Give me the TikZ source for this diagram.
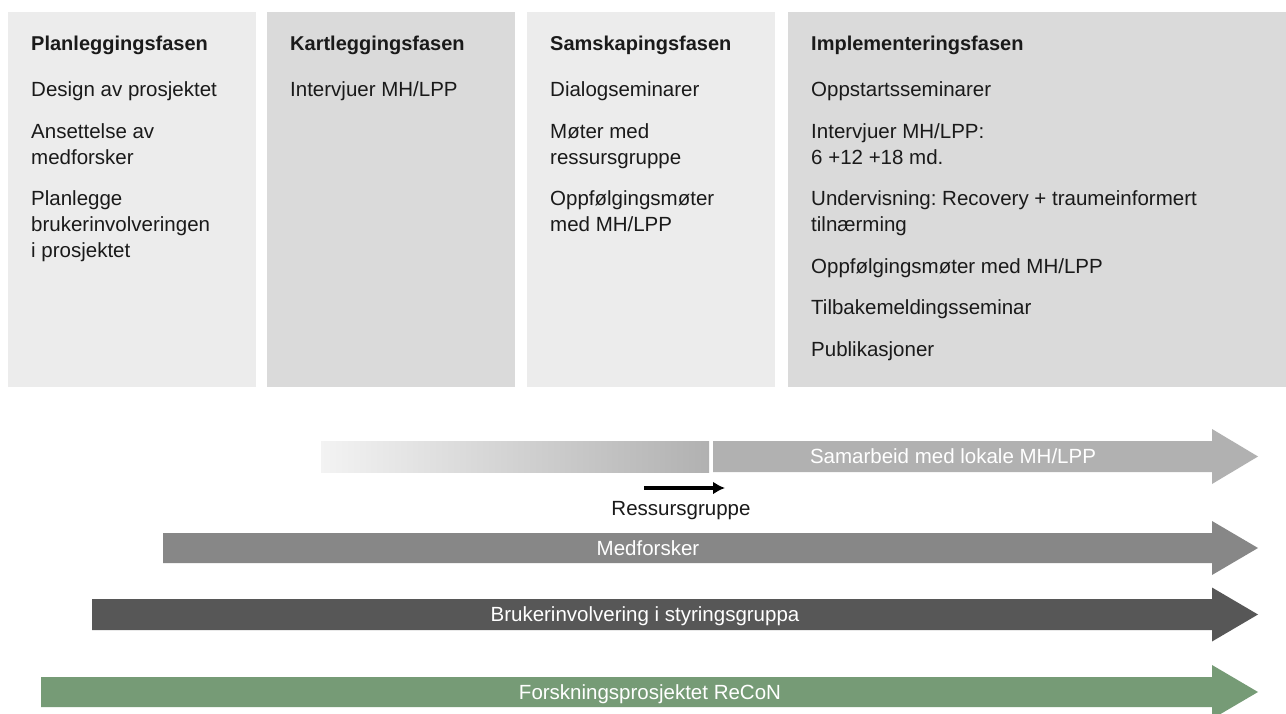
\documentclass[tikz,border=0pt]{standalone}
\usepackage{fontspec}
\setmainfont{Liberation Sans}
\usetikzlibrary{arrows.meta}
\frenchspacing
\definecolor{boxlight}{HTML}{ECECEC}
\definecolor{boxdark}{HTML}{DADADA}
\definecolor{ink}{HTML}{1A1A1A}
\definecolor{barA}{HTML}{B1B1B1}
\definecolor{barAstart}{HTML}{F3F3F3}
\definecolor{barB}{HTML}{878787}
\definecolor{barC}{HTML}{575757}
\definecolor{barD}{HTML}{769B76}
\begin{document}
\frenchspacing
\begin{tikzpicture}[x=1pt,y=-1pt,
  phasehead/.style={anchor=base west,inner sep=0pt,text=ink,font=\fontsize{20}{24}\selectfont\bfseries},
  phaseitem/.style={anchor=base west,inner sep=0pt,text=ink,font=\fontsize{20.5}{26}\selectfont},
  barlabel/.style={anchor=base,inner sep=0pt,text=white,font=\fontsize{20.5}{24}\selectfont},
  rglabel/.style={anchor=base,inner sep=0pt,text=ink,font=\fontsize{20.5}{24}\selectfont},
  rgarrow/.style={line width=3.2pt,draw=black,-{Latex[length=12pt,width=13pt]}}
]
\useasboundingbox (0,0) rectangle (1286,714);
\fill[white] (0,0) rectangle (1286,714);

% phase boxes
\fill[boxlight] (8,12) rectangle (256,387);
\fill[boxdark] (267,12) rectangle (515,387);
\fill[boxlight] (527,12) rectangle (775,387);
\fill[boxdark] (788,12) rectangle (1286,387);

% Box 1
\node[phasehead] (h1) at (31,51) {Planleggingsfasen};
\node[phaseitem] (a1) at (31,97) {Design av prosjektet};
\node[phaseitem] (a2) at (31,138.5) {Ansettelse av};
\node[phaseitem] (a3) at (31,164.5) {medforsker};
\node[phaseitem] (a4) at (31,206) {Planlegge};
\node[phaseitem] (a5) at (31,232) {brukerinvolveringen};
\node[phaseitem] (a6) at (31,258) {i prosjektet};

% Box 2
\node[phasehead] (h2) at (290,51) {Kartleggingsfasen};
\node[phaseitem] (b1) at (290,97) {Intervjuer MH/LPP};

% Box 3
\node[phasehead] (h3) at (550,51) {Samskapingsfasen};
\node[phaseitem] (c1) at (550,97) {Dialogseminarer};
\node[phaseitem] (c2) at (550,138.5) {Møter med};
\node[phaseitem] (c3) at (550,164.5) {ressursgruppe};
\node[phaseitem] (c4) at (550,206) {Oppfølgingsmøter};
\node[phaseitem] (c5) at (550,232) {med MH/LPP};

% Box 4
\node[phasehead] (h4) at (811,51) {Implementeringsfasen};
\node[phaseitem] (d1) at (811,97) {Oppstartsseminarer};
\node[phaseitem] (d2) at (811,138.5) {Intervjuer MH/LPP:};
\node[phaseitem] (d3) at (811,164.5) {6 +12 +18 md.};
\node[phaseitem] (d4) at (811,206) {Undervisning: Recovery + traumeinformert};
\node[phaseitem] (d5) at (811,232) {tilnærming};
\node[phaseitem] (d6) at (811,273.5) {Oppfølgingsmøter med MH/LPP};
\node[phaseitem] (d7) at (811,315) {Tilbakemeldingsseminar};
\node[phaseitem] (d8) at (811,356.5) {Publikasjoner};

% Arrow 1: gradient + solid
\shade[left color=barAstart,right color=barA] (321,441) rectangle (709,472);
\fill[barA] (713,441) -- (1212,441) -- (1212,429) -- (1258,456.5) -- (1212,484) -- (1212,472) -- (713,472) -- cycle;
\node[barlabel] (l1) at (953,463.5) {Samarbeid med lokale MH/LPP};

% Ressursgruppe
\coordinate (rgA) at (644,488);
\coordinate (rgB) at (725,488);
\draw[rgarrow] (rgA) -- (rgB);
\node[rglabel] (rg) at (681,515) {Ressursgruppe};

% Arrow 2
\fill[barB] (163,533) -- (1212,533) -- (1212,521) -- (1258,548) -- (1212,575) -- (1212,563) -- (163,563) -- cycle;
\node[barlabel] (l2) at (648,555) {Medforsker};

% Arrow 3
\fill[barC] (92,599) -- (1212,599) -- (1212,587.5) -- (1258,614.5) -- (1212,641.5) -- (1212,630) -- (92,630) -- cycle;
\node[barlabel] (l3) at (645,621.5) {Brukerinvolvering i styringsgruppa};

% Arrow 4
\fill[barD] (41,677) -- (1212,677) -- (1212,665) -- (1258,692) -- (1212,719) -- (1212,707) -- (41,707) -- cycle;
\node[barlabel] (l4) at (650,699) {Forskningsprosjektet ReCoN};
\end{tikzpicture}
\end{document}
